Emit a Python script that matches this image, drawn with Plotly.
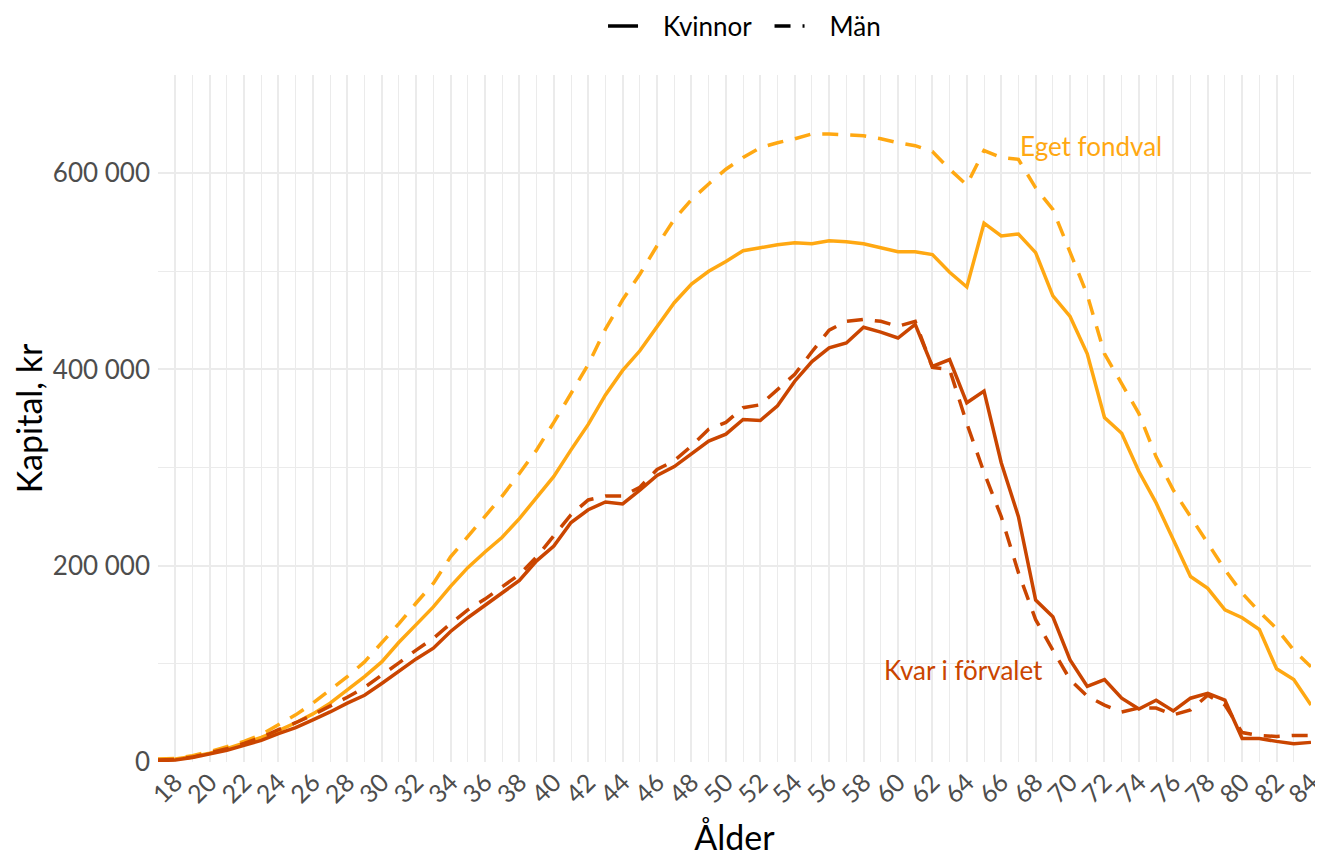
import plotly.graph_objects as go

ages = list(range(17, 85))

# values in thousands of kr
women_eget = [2.5, 3, 5.5, 9, 13.5, 19, 25, 32, 40, 49, 60, 73.5, 87, 102, 122, 140, 158, 179, 198, 214,
              229, 248, 269, 291, 318, 344, 374, 399, 419, 444, 468, 487, 500, 510, 521, 524, 527, 529,
              528, 531, 530, 528, 524, 520, 520, 517, 499, 484, 549, 536, 538, 519, 475, 454, 416, 351,
              335, 296, 264, 227, 189, 177, 155, 147, 135, 95, 84, 58]
men_eget = [3, 3.5, 6.5, 10.5, 15.5, 21, 28, 38, 48, 60, 73.5, 87, 102, 121, 141, 162, 182, 209, 230, 250,
            271, 294, 318, 346, 375, 405, 441, 471, 497, 526, 553, 573, 589, 604, 616, 626, 631, 635,
            640, 640, 639, 638, 635, 631, 628, 622, 604, 588, 623, 616, 614, 585, 563, 519, 476, 416,
            386, 355, 311, 277, 250, 223, 196, 172, 153, 136, 114, 97]
women_kvar = [1.5, 2, 4.5, 8, 12, 17, 22, 29, 35, 43, 51, 60, 68, 80, 93, 105, 116, 133, 147, 160,
              172, 185, 205, 220, 244, 257, 265, 263, 277, 292, 301, 314, 327, 334, 349, 348, 363, 388,
              408, 422, 427, 443, 438, 432, 446, 403, 410, 366, 378, 305, 250, 165, 148, 104, 77, 84,
              65, 54, 63, 52, 65, 70, 63, 24, 24, 21, 18.5, 20]
men_kvar = [2, 2.5, 5, 9, 13.5, 19, 25, 33, 40, 48, 57, 66, 76, 88, 101, 114, 126, 141, 155, 166,
            179, 191, 209, 231, 252, 267, 271, 271, 280, 298, 307, 322, 339, 346, 361, 364, 380, 395,
            418, 440, 449, 451, 449, 444, 449, 402, 400, 345, 295, 250, 193, 145, 114, 84, 67, 58,
            51, 55, 55, 48, 53, 68, 58, 30, 27, 26, 27, 27]

x_tickvals = list(range(18, 85, 2))
y_tickvals = [0, 200000, 400000, 600000]
y_ticktext = ["0", "200 000", "400 000", "600 000"]

ORANGE = "#FFA812"
DARK = "#CA4500"
FONT = "Lato"
DASH = "16px,12px"
LW = 3.5
NB = "\u00a0"

def k(v):
    return [x * 1000 for x in v]

fig = go.Figure()
fig.add_trace(go.Scatter(x=ages, y=k(men_eget), mode="lines", showlegend=False,
                         line=dict(color=ORANGE, width=LW, dash=DASH)))
fig.add_trace(go.Scatter(x=ages, y=k(women_eget), mode="lines", showlegend=False,
                         line=dict(color=ORANGE, width=LW)))
fig.add_trace(go.Scatter(x=ages, y=k(men_kvar), mode="lines", showlegend=False,
                         line=dict(color=DARK, width=LW, dash=DASH)))
fig.add_trace(go.Scatter(x=ages, y=k(women_kvar), mode="lines", showlegend=False,
                         line=dict(color=DARK, width=LW)))
# legend entries
fig.add_trace(go.Scatter(x=[None], y=[None], mode="lines", name=NB * 3 + "Kvinnor" + NB * 2,
                         line=dict(color="black", width=LW)))
fig.add_trace(go.Scatter(x=[None], y=[None], mode="lines", name=NB * 3 + "Män",
                         line=dict(color="black", width=LW, dash=DASH)))

fig.add_annotation(x=67.0, y=628000, text="Eget fondval", showarrow=False, xanchor="left",
                   yanchor="middle", font=dict(family=FONT, size=26, color=ORANGE))
fig.add_annotation(x=59.07, y=94000, text="Kvar i förvalet", showarrow=False, xanchor="left",
                   yanchor="middle", font=dict(family=FONT, size=26, color=DARK))

# page body has an 8px default margin, so the figure is sized/offset to compensate
fig.update_layout(
    width=1315, height=851,
    margin=dict(l=150, r=12, t=67, b=97, autoexpand=False),
    paper_bgcolor="white", plot_bgcolor="white",
    font=dict(family=FONT, color="black"),
    legend=dict(orientation="h", x=0.5087, xanchor="center", y=1.0713, yanchor="middle",
                font=dict(size=26, family=FONT, color="black")),
    showlegend=True,
)

fig.update_xaxes(range=[16.999, 84.001], tickvals=x_tickvals, tickangle=-45, automargin=False,
                 ticklabeloverflow="allow",
                 tickfont=dict(size=25, color="#4D4D4D", family=FONT),
                 showgrid=True, gridcolor="#EBEBEB", gridwidth=1.6,
                 minor=dict(dtick=1, tick0=17, showgrid=True, gridcolor="#EBEBEB", gridwidth=0.8),
                 zeroline=False, showline=False, ticks="",
                 title=dict(text="Ålder", font=dict(size=34, color="black", family=FONT), standoff=18))
fig.update_yaxes(range=[0, 700000], tickvals=y_tickvals, ticktext=y_ticktext, automargin=False,
                 tickfont=dict(size=26, color="#4D4D4D", family=FONT), ticklabelstandoff=7,
                 showgrid=True, gridcolor="#EBEBEB", gridwidth=1.6,
                 minor=dict(tickvals=[100000, 300000, 500000, 700000], showgrid=True,
                            gridcolor="#EBEBEB", gridwidth=0.8),
                 zeroline=False, showline=False, ticks="",
                 title=dict(text="Kapital, kr", font=dict(size=34, color="black", family=FONT), standoff=0))

fig.write_html("out.html")
